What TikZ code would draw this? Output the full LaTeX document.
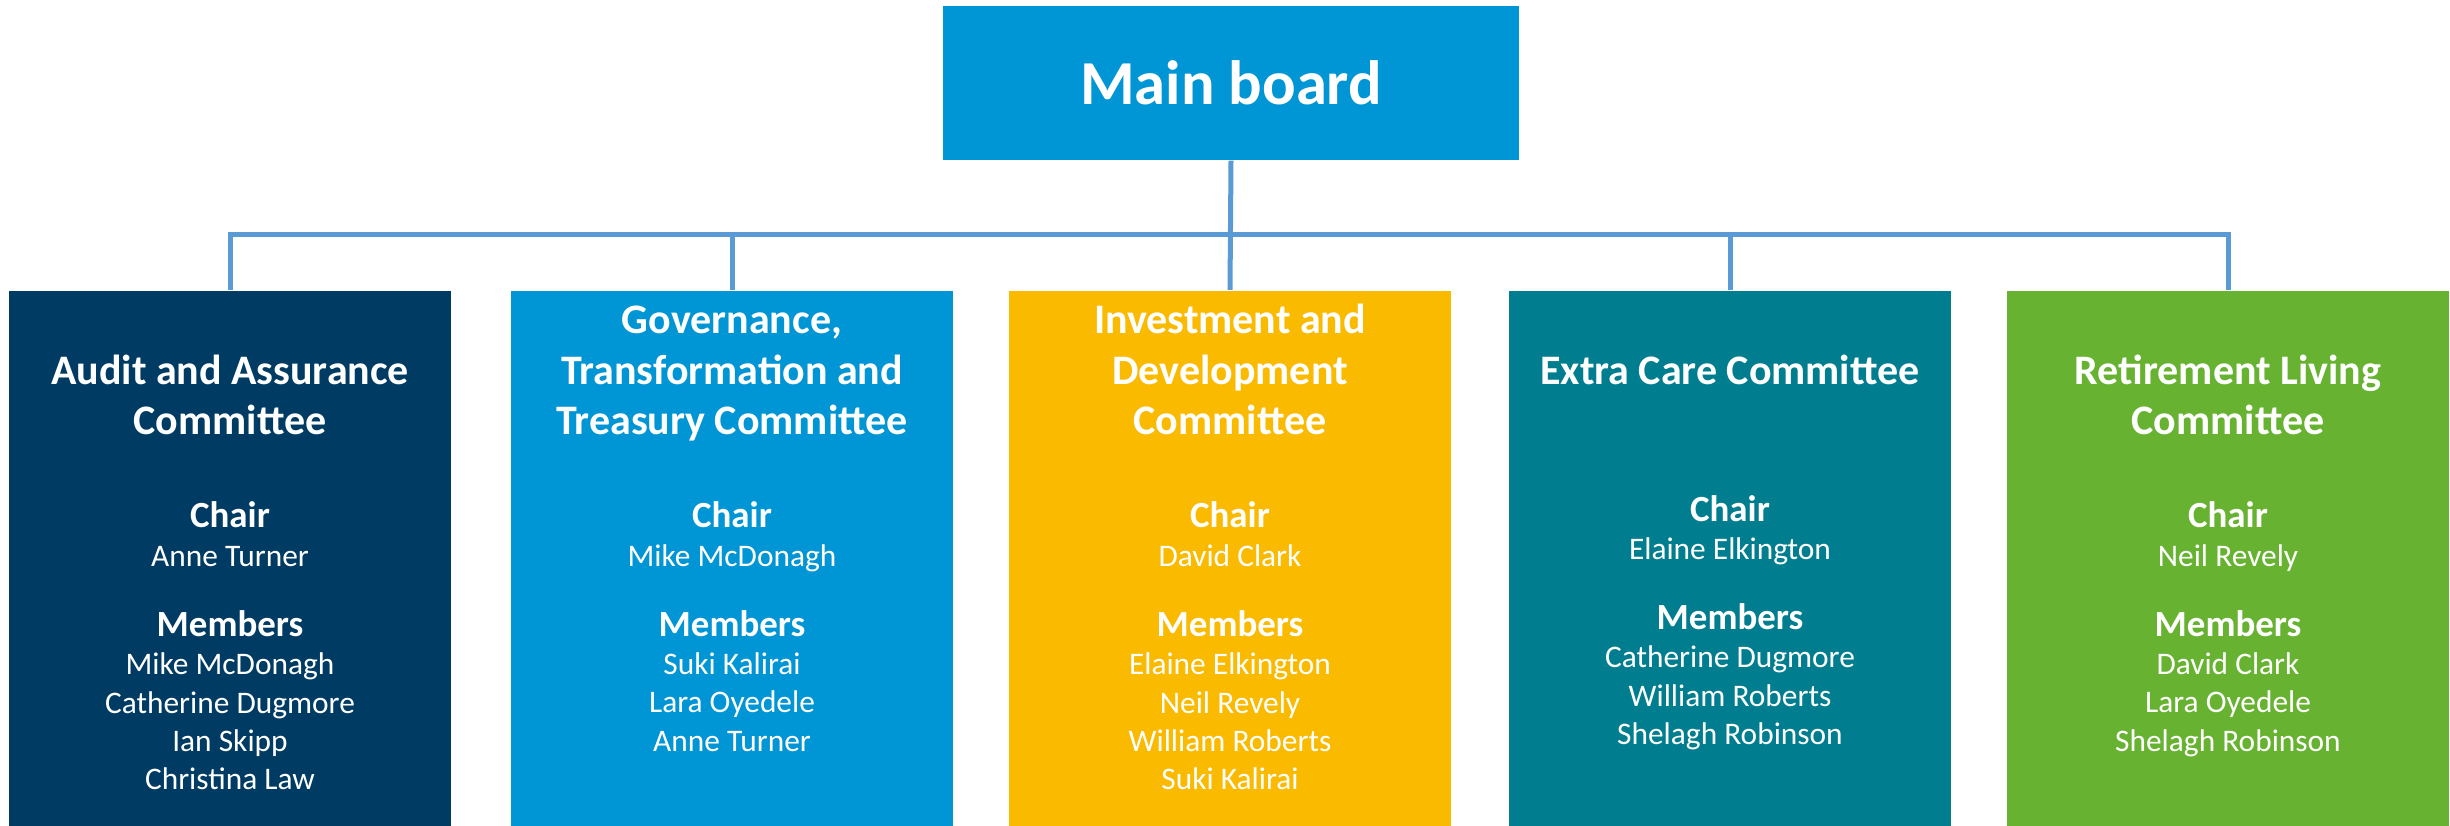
\documentclass[tikz,border=0pt]{standalone}
\usepackage{fontspec}
\setmainfont{Carlito}
\usetikzlibrary{positioning}

\definecolor{boardblue}{RGB}{0,149,212}
\definecolor{auditnavy}{RGB}{0,59,99}
\definecolor{investgold}{RGB}{250,186,0}
\definecolor{careteal}{RGB}{0,126,143}
\definecolor{livinggreen}{RGB}{103,179,49}
\definecolor{linkblue}{RGB}{91,155,213}

% bold heading inside a list of names
\newcommand{\role}[1]{{\fontsize{10.5}{10.93}\selectfont\bfseries #1}}

\begin{document}
\begin{tikzpicture}[
  board/.style={rectangle, fill=boardblue, text=white, minimum width=5.76cm, minimum height=1.54cm, inner sep=0pt, font=\fontsize{17.8}{21}\selectfont\bfseries},
  committee/.style={rectangle, minimum width=4.42cm, minimum height=5.36cm, inner sep=0pt, anchor=north},
  title/.style={text=white, align=center, anchor=base, font=\fontsize{11.95}{14.37}\selectfont\bfseries},
  people/.style={text=white, align=center, anchor=base, font=\fontsize{8.93}{10.93}\selectfont},
  link/.style={draw=linkblue, line width=0.05cm, line join=miter}
]
\useasboundingbox (0,0) rectangle (24.5,8.26);

\node[board] (main) at (12.31,7.43) {Main board};

% committee boxes
\node[committee, fill=auditnavy] (audit) at (2.30,5.36) {};
\node[committee, fill=boardblue] (gov) at (7.32,5.36) {};
\node[committee, fill=investgold] (invest) at (12.30,5.36) {};
\node[committee, fill=careteal] (care) at (17.30,5.36) {};
\node[committee, fill=livinggreen] (living) at (22.28,5.36) {};

% connectors
\coordinate (bus) at (12.30,5.91);
\draw[link] (main.south) -- (invest.north);
\draw[link] (audit.north) |- (bus) -| (living.north);
\draw[link] (gov.north) -- (gov.north |- bus);
\draw[link] (care.north) -- (care.north |- bus);

% titles (base = baseline of the last line)
\node[title] (audit title) at (2.30,3.91) {Audit and Assurance\\Committee};
\node[title] (gov title) at (7.32,3.91) {Governance,\\Transformation and\\Treasury Committee};
\node[title] (invest title) at (12.30,3.91) {Investment and\\Development\\Committee};
\node[title] (care title) at (17.30,4.41) {Extra Care Committee};
\node[title] (living title) at (22.28,3.91) {Retirement Living\\Committee};

% chairs and members
\node[people] (audit people) at (2.30,0.36) {\role{Chair}\\Anne Turner\\[0.316cm]\role{Members}\\Mike McDonagh\\Catherine Dugmore\\Ian Skipp\\Christina Law};
\node[people] (gov people) at (7.32,0.747) {\role{Chair}\\Mike McDonagh\\[0.316cm]\role{Members}\\Suki Kalirai\\Lara Oyedele\\Anne Turner};
\node[people] (invest people) at (12.30,0.36) {\role{Chair}\\David Clark\\[0.316cm]\role{Members}\\Elaine Elkington\\Neil Revely\\William Roberts\\Suki Kalirai};
\node[people] (care people) at (17.30,0.813) {\role{Chair}\\Elaine Elkington\\[0.316cm]\role{Members}\\Catherine Dugmore\\William Roberts\\Shelagh Robinson};
\node[people] (living people) at (22.28,0.747) {\role{Chair}\\Neil Revely\\[0.316cm]\role{Members}\\David Clark\\Lara Oyedele\\Shelagh Robinson};
\end{tikzpicture}
\end{document}
